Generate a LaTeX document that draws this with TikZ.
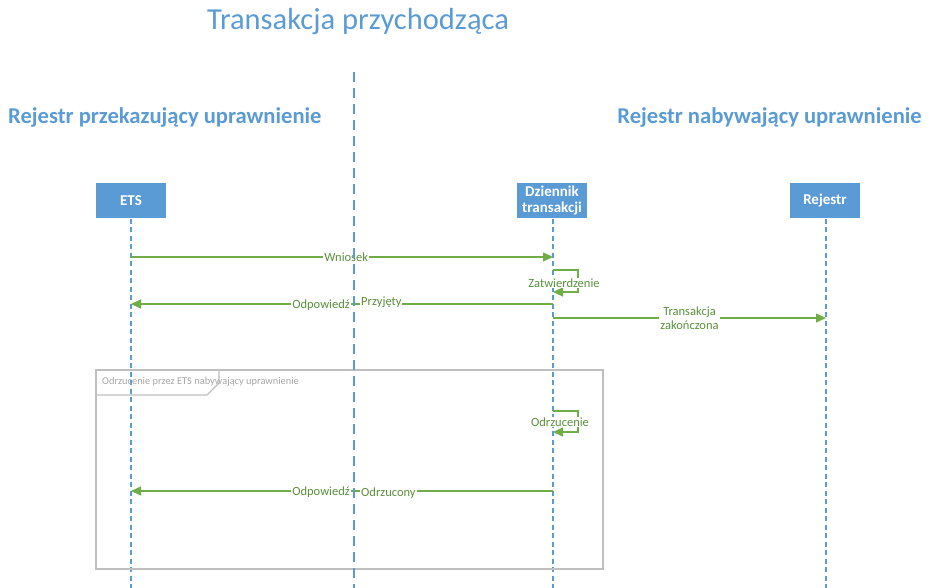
\documentclass[tikz,border=0pt]{standalone}
\usepackage{fontspec}
\setmainfont{Carlito}
\usetikzlibrary{arrows.meta,positioning}
\definecolor{lifeblue}{HTML}{5B9BD5}
\definecolor{msggreen}{HTML}{70AD47}
\definecolor{msgtext}{HTML}{5A8F3C}
\definecolor{framegray}{HTML}{BFBFBF}
\definecolor{framelabel}{HTML}{A6A6A6}

\begin{document}
\begin{tikzpicture}[x=1pt,y=-1pt]
\tikzstyle{actor} = [fill=lifeblue,text=white,font=\bfseries\fontsize{15}{16}\selectfont,minimum width=70pt,minimum height=35pt,inner sep=1pt,align=center]
\tikzstyle{heading} = [text=lifeblue,font=\bfseries\fontsize{22.6}{26}\selectfont,inner sep=0pt]
\tikzstyle{lifeline} = [draw=lifeblue,line width=1.4pt,dash pattern=on 5pt off 3.5pt]
\tikzstyle{divider} = [draw=lifeblue,line width=1.4pt,dash pattern=on 10pt off 6pt]
\tikzstyle{msg} = [draw=msggreen,line width=1.3pt,-{Triangle[length=10pt,width=9pt]}]
\tikzstyle{msglabel} = [fill=white,text=msgtext,font=\fontsize{12.5}{13.5}\selectfont,inner sep=1pt,align=center]
\tikzstyle{frame} = [draw=framegray,line width=1.2pt]

\useasboundingbox (0,0) rectangle (926,588);

% headings
\node[text=lifeblue,font=\fontsize{30.5}{34}\selectfont] (title) at (358,22) {Transakcja przychodząca};
\node[heading,anchor=west] (sender) at (8,117) {Rejestr przekazujący uprawnienie};
\node[heading,anchor=east] (receiver) at (922,117) {Rejestr nabywający uprawnienie};

% participants
\node[actor] (ets) at (131,201) {ETS};
\node[actor] (dziennik) at (552,201) {Dziennik\\transakcji};
\node[actor] (rejestr) at (825,201) {Rejestr};

\coordinate (etsend) at (131,588);
\coordinate (dziennikend) at (553,588);
\coordinate (rejestrend) at (826,588);
\coordinate (divtop) at (354,72);
\coordinate (divend) at (354,588);

\draw[lifeline] (ets) -- (etsend);
\draw[lifeline] (dziennik.south -| dziennikend) -- (dziennikend);
\draw[lifeline] (rejestr.south -| rejestrend) -- (rejestrend);

% fragment
\draw[frame] (96,370) rectangle (603,569);
\draw[frame] (96,395) -- (207,395) -- (219,383) -- (219,370);
\node[anchor=west,text=framelabel,font=\fontsize{10.4}{11}\selectfont,inner sep=0pt] (fraglabel) at (102,382) {Odrzucenie przez ETS nabywający uprawnienie};

% messages
\draw[msg] (ets |- 0,257) -- node[msglabel,pos=0.51]{Wniosek} (dziennikend |- 0,257);

\draw[msg] (dziennikend |- 0,270) -- ++(25,0) -- ++(0,22) -- ++(-25,0);
\node[msglabel] (zatw) at (564,283) {Zatwierdzenie};

\draw[msg] (dziennikend |- 0,304) -- (ets |- 0,304);
\node[msglabel,anchor=east] (odp1) at (351,305) {Odpowiedź};
\node[msglabel,anchor=west] (przyjety) at (360,302) {Przyjęty};

\draw[msg] (dziennikend |- 0,318) -- node[msglabel,pos=0.5]{Transakcja\\zakończona} (rejestrend |- 0,318);

\draw[msg] (dziennikend |- 0,411) -- ++(25,0) -- ++(0,21) -- ++(-25,0);
\node[msglabel] (odrz) at (560,422) {Odrzucenie};

\draw[msg] (dziennikend |- 0,491) -- (ets |- 0,491);
\node[msglabel,anchor=east] (odp2) at (351,492) {Odpowiedź};
\node[msglabel,anchor=west] (odrzucony) at (360,493) {Odrzucony};

% divider
\draw[divider] (divtop) -- (divend);

\end{tikzpicture}
\end{document}
